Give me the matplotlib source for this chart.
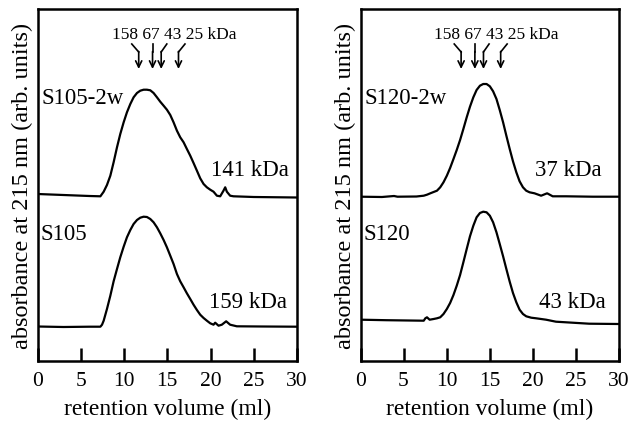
import matplotlib.pyplot as plt

plt.rcParams["font.family"] = ["Liberation Serif", "DejaVu Serif"]

# elution volumes (ml) of the marker proteins
marker_vol = [11.7, 13.3, 14.3, 16.3]
marker_text = "158 67 43 25 kDa"

# S105 samples (left panel), absorbance in arb. units
s105_2w_vol = [0, 3, 6, 7.27, 7.65, 8.03, 8.42, 8.80, 9.19, 9.57, 9.96, 10.34, 10.73,
               11.11, 11.50, 11.88, 12.27, 12.65, 13.04, 13.42, 13.81, 14.19, 14.58,
               14.96, 15.35, 15.73, 16.12, 16.50, 16.89, 17.27, 17.66, 18.04, 18.43,
               18.81, 19.20, 19.58, 19.97, 20.35, 20.74, 21.12, 21.50, 21.70, 21.89,
               22.27, 22.66, 25, 28, 30]
s105_2w_abs = [16.7, 16.6, 16.5, 16.47, 16.93, 17.6, 18.53, 19.87, 21.37, 22.7, 23.87,
               24.87, 25.7, 26.37, 26.8, 27.03, 27.13, 27.13, 27.07, 26.8, 26.37, 25.93,
               25.53, 25.13, 24.6, 23.87, 23.03, 22.37, 21.87, 21.2, 20.53, 19.8, 19.03,
               18.27, 17.7, 17.37, 17.13, 16.93, 16.53, 16.47, 17.03, 17.37, 16.93, 16.53,
               16.47, 16.4, 16.37, 16.35]

s105_vol = [0, 3, 6, 7.27, 7.46, 7.65, 8.03, 8.42, 8.80, 9.19, 9.57, 9.96, 10.34, 10.73,
            11.11, 11.50, 11.88, 12.27, 12.65, 13.04, 13.42, 13.81, 14.19, 14.58, 14.96,
            15.35, 15.73, 16.12, 16.50, 16.89, 17.27, 17.66, 18.04, 18.43, 18.81, 19.20,
            19.58, 19.97, 20.35, 20.54, 20.93, 21.31, 21.81, 22.27, 23.04, 26, 30]
s105_abs = [3.45, 3.4, 3.43, 3.43, 3.63, 4.03, 5.2, 6.53, 7.97, 9.2, 10.37, 11.43, 12.37,
            13.1, 13.7, 14.1, 14.33, 14.43, 14.4, 14.2, 13.87, 13.37, 12.77, 12.1, 11.37,
            10.53, 9.7, 8.7, 7.97, 7.37, 6.77, 6.2, 5.63, 5.1, 4.63, 4.3, 4.03, 3.77,
            3.63, 3.83, 3.53, 3.63, 3.97, 3.63, 3.47, 3.45, 3.43]

# S120 samples (right panel)
s120_2w_vol = [0, 2.5, 3.9, 4.3, 6.5, 7.35, 7.73, 8.12, 8.50, 8.89, 9.27, 9.65, 10.04,
               10.42, 10.81, 11.19, 11.58, 11.96, 12.35, 12.73, 13.12, 13.50, 13.89,
               14.27, 14.66, 15.04, 15.42, 15.81, 16.19, 16.58, 16.96, 17.35, 17.73,
               18.12, 18.50, 18.89, 19.27, 19.66, 20.23, 21.0, 21.7, 22.35, 23.9, 27, 30]
s120_2w_abs = [16.43, 16.4, 16.5, 16.43, 16.45, 16.53, 16.63, 16.77, 16.9, 17.03, 17.37,
               17.87, 18.53, 19.3, 20.2, 21.1, 22.1, 23.2, 24.37, 25.43, 26.37, 27.1,
               27.53, 27.7, 27.7, 27.47, 26.97, 26.2, 25.1, 23.87, 22.53, 21.2, 19.97,
               18.87, 17.97, 17.37, 17.03, 16.87, 16.77, 16.53, 16.77, 16.47, 16.47,
               16.43, 16.43]

s120_vol = [0.04, 3, 7.35, 7.54, 7.73, 8.04, 8.50, 8.89, 9.27, 9.65, 10.04, 10.42, 10.81,
            11.19, 11.58, 11.96, 12.35, 12.73, 13.12, 13.50, 13.89, 14.27, 14.66, 15.04,
            15.42, 15.81, 16.19, 16.58, 16.96, 17.35, 17.73, 18.12, 18.50, 18.89, 19.27,
            19.85, 20.42, 21.58, 22.73, 26.58, 30]
s120_abs = [4.13, 4.08, 4.03, 4.27, 4.37, 4.13, 4.2, 4.27, 4.37, 4.7, 5.2, 5.8, 6.6, 7.53,
            8.6, 9.87, 11.2, 12.47, 13.53, 14.37, 14.8, 14.93, 14.87, 14.53, 13.87, 12.87,
            11.7, 10.47, 9.2, 7.93, 6.8, 5.87, 5.13, 4.7, 4.47, 4.33, 4.27, 4.13, 3.93,
            3.73, 3.7]

panels = [
    ("S105-2w", "141 kDa", s105_2w_vol, s105_2w_abs,
     "S105", "159 kDa", s105_vol, s105_abs),
    ("S120-2w", "37 kDa", s120_2w_vol, s120_2w_abs,
     "S120", "43 kDa", s120_vol, s120_abs),
]

W, H = 629, 427
fig = plt.figure(figsize=(W / 100, H / 100), dpi=100)
boxes = [(37.5, 259.5), (360.5, 258)]
label_pads = [3, 3.5]
mw_x = [(20.1, 19.8), (20.3, 20.7)]

for (left, width), pad, (xt, xb), p in zip(boxes, label_pads, mw_x, panels):
    top_name, top_mw, tv, ta, bot_name, bot_mw, bv, ba = p
    ax = fig.add_axes([left / W, 65 / H, width / W, 352 / H])

    ax.plot(tv, ta, color="black", lw=1.6, solid_joinstyle="round")
    ax.plot(bv, ba, color="black", lw=1.6, solid_joinstyle="round")

    ax.text(0.45, 26.3, top_name, fontsize=16.5, va="center", ha="left")
    ax.text(xt, 19.1, top_mw, fontsize=16.5, va="center", ha="left")
    ax.text(0.35, 12.7, bot_name, fontsize=16.5, va="center", ha="left")
    ax.text(xb, 6.0, bot_mw, fontsize=16.5, va="center", ha="left")

    # marker arrows
    ax.text(15.8, 32.7, marker_text, fontsize=12.5, ha="center", va="center")
    for x0, dx in zip(marker_vol, [-0.8, 0, 0.65, 0.75]):
        ax.plot([x0 + dx, x0], [31.7, 30.9], color="black", lw=1.2)
        ax.annotate("", xy=(x0, 29.2), xytext=(x0, 30.95),
                    arrowprops=dict(arrowstyle="->,head_length=0.45,head_width=0.22",
                                    lw=1.2, color="black", shrinkA=0, shrinkB=0))

    ax.set_xlim(0, 30)
    ax.set_ylim(0, 35.2)
    ax.set_xticks([0, 5, 10, 15, 20, 25, 30])
    ax.set_yticks([])
    ax.tick_params(axis="x", direction="in", length=9.5, width=1.8, pad=7, labelsize=15.5)
    for s in ax.spines.values():
        s.set_linewidth(1.8)
    ax.set_xlabel("retention volume (ml)", fontsize=17, labelpad=6)
    ax.set_ylabel("absorbance at 215 nm (arb. units)", fontsize=17.5, labelpad=pad)

fig.savefig("out.png", dpi=100)
